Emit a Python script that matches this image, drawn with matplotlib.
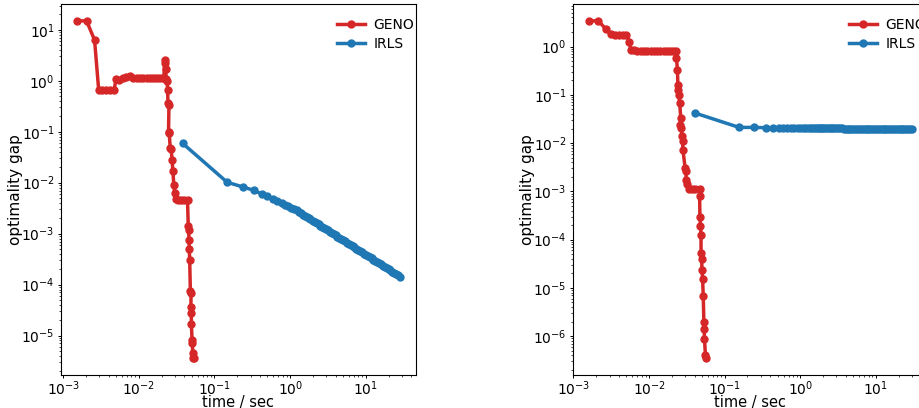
# -*- coding: utf-8 -*-
"""
GENO vs IRLS: optimality gap over time, two problem instances side by side
"""

import matplotlib
matplotlib.use("Agg")
from matplotlib import pyplot as plt

#_____________________________________________________
#DATA

# left panel
genoTimeLeft = [1.53e-3, 2.04e-3, 2.6e-3, 2.95e-3, 3.3e-3, 3.7e-3, 4.1e-3, 4.7e-3,
                5.0e-3, 5.5e-3, 6.1e-3, 6.8e-3, 7.7e-3, 8.5e-3, 9.4e-3, 0.0104,
                0.0115, 0.0127, 0.014, 0.0155, 0.017, 0.0185, 0.020, 0.0214,
                0.0220, 0.0223, 0.0226, 0.0230, 0.0237, 0.0240, 0.0243, 0.0250,
                0.0247, 0.0252, 0.0260, 0.0268, 0.0275, 0.0282, 0.0290, 0.0298,
                0.0310, 0.0330, 0.0360, 0.0400, 0.0440, 0.0450, 0.0455, 0.0460,
                0.0465, 0.0470, 0.0480, 0.0490, 0.0487, 0.0493, 0.0495, 0.0505,
                0.0510, 0.0515, 0.0525, 0.0530]
genoGapLeft = [15.0, 15.0, 6.3, 0.65, 0.65, 0.65, 0.65, 0.65,
               1.07, 1.05, 1.15, 1.18, 1.23, 1.15, 1.12, 1.12,
               1.12, 1.12, 1.12, 1.12, 1.12, 1.12, 1.12, 1.12,
               2.6, 2.2, 1.7, 1.1, 0.97, 0.65, 0.36, 0.33,
               0.10, 0.095, 0.048, 0.045, 0.028, 0.017, 0.009, 0.0063,
               0.0047, 0.0045, 0.0045, 0.0045, 0.0046, 1.4e-3, 1.2e-3, 7.6e-4,
               4.9e-4, 3.1e-4, 7.4e-5, 6.8e-5, 2.8e-5, 3.6e-5, 1.66e-5, 8.3e-6,
               7.0e-6, 4.6e-6, 3.6e-6, 3.6e-6]

irlsTimeLeft = [0.038, 0.147, 0.24, 0.33, 0.42, 0.5, 0.59, 0.68, 0.77, 0.86,
                0.95, 1.04, 1.13, 1.22, 1.31, 1.40, 1.49, 1.58, 1.67, 1.76, 1.85,
                1.995, 2.113, 2.239, 2.371, 2.512, 2.661, 2.818, 2.985, 3.162,
                3.350, 3.548, 3.758, 3.981, 4.217, 4.467, 4.732, 5.012, 5.309,
                5.623, 5.957, 6.310, 6.683, 7.079, 7.499, 7.943, 8.414, 8.913,
                9.441, 10.0, 10.59, 11.22, 11.89, 12.59, 13.34, 14.13, 14.96,
                15.85, 16.79, 17.78, 18.84, 19.95, 21.13, 22.39, 23.71, 25.12,
                26.61, 28.18]
irlsGapLeft = [0.059, 0.0102, 0.0082, 0.0071, 0.0060, 0.0054, 4.84e-3, 4.38e-3,
               4.00e-3, 3.70e-3, 3.44e-3, 3.22e-3, 3.03e-3, 2.86e-3, 2.67e-3,
               2.51e-3, 2.37e-3, 2.24e-3, 2.12e-3, 2.02e-3, 1.92e-3,
               1.791e-3, 1.695e-3, 1.604e-3, 1.519e-3, 1.438e-3, 1.361e-3,
               1.288e-3, 1.220e-3, 1.155e-3, 1.093e-3, 1.034e-3, 9.79e-4,
               9.27e-4, 8.78e-4, 8.31e-4, 7.86e-4, 7.44e-4, 7.05e-4, 6.67e-4,
               6.32e-4, 5.98e-4, 5.66e-4, 5.36e-4, 5.07e-4, 4.80e-4, 4.54e-4,
               4.30e-4, 4.07e-4, 3.85e-4, 3.65e-4, 3.45e-4, 3.27e-4, 3.09e-4,
               2.93e-4, 2.77e-4, 2.63e-4, 2.49e-4, 2.35e-4, 2.23e-4, 2.11e-4,
               2.00e-4, 1.89e-4, 1.79e-4, 1.69e-4, 1.60e-4, 1.52e-4, 1.44e-4]

# right panel
genoTimeRight = [1.61e-3, 2.14e-3, 2.67e-3, 3.11e-3, 3.5e-3, 4.0e-3, 4.5e-3, 5.0e-3,
                 5.44e-3, 5.73e-3, 6.3e-3, 7.0e-3, 7.8e-3, 8.6e-3, 9.5e-3, 0.0105,
                 0.0116, 0.0128, 0.0141, 0.0156, 0.0172, 0.019, 0.021, 0.0230,
                 0.0230, 0.0237, 0.0240, 0.0244, 0.0246, 0.0254, 0.0262, 0.0258,
                 0.0268, 0.0270, 0.0277, 0.0280, 0.0300, 0.0312, 0.0305, 0.0320,
                 0.0340, 0.0370, 0.0410, 0.0470, 0.0465, 0.0470, 0.0478, 0.0486,
                 0.0486, 0.0495, 0.0500, 0.0510, 0.0520, 0.0530, 0.0535, 0.0540,
                 0.0555, 0.0560]
genoGapRight = [3.4, 3.4, 2.3, 1.8, 1.75, 1.75, 1.75, 1.75,
                1.27, 0.85, 0.83, 0.82, 0.81, 0.80, 0.80, 0.80,
                0.80, 0.80, 0.80, 0.80, 0.80, 0.80, 0.80, 0.81,
                0.57, 0.33, 0.16, 0.127, 0.10, 0.067, 0.033, 0.024,
                0.0204, 0.0137, 0.0108, 0.0072, 3.0e-3, 2.6e-3, 1.74e-3, 1.44e-3,
                1.12e-3, 1.12e-3, 1.12e-3, 1.12e-3, 8.1e-4, 3.0e-4, 1.95e-4, 1.26e-4,
                5.2e-5, 4.0e-5, 2.4e-5, 1.5e-5, 6.7e-6, 1.95e-6, 1.38e-6, 8.8e-7,
                4.1e-7, 3.5e-7]

irlsTimeRight = [0.0402, 0.155, 0.244, 0.351, 0.434, 0.521, 0.589, 0.665, 0.751,
                 0.824, 0.93, 1.02, 1.11, 1.20, 1.29, 1.38, 1.47, 1.56, 1.65,
                 1.74, 1.83, 1.92,
                 1.995, 2.113, 2.239, 2.371, 2.512, 2.661, 2.818, 2.985, 3.162,
                 3.350, 3.548, 3.758, 3.981, 4.217, 4.467, 4.732, 5.012, 5.309,
                 5.623, 5.957, 6.310, 6.683, 7.079, 7.499, 7.943, 8.414, 8.913,
                 9.441, 10.0, 10.59, 11.22, 11.89, 12.59, 13.34, 14.13, 14.96,
                 15.85, 16.79, 17.78, 18.84, 19.95, 21.13, 22.39, 23.71, 25.12,
                 26.61, 28.18, 29.85]
irlsGapRight = [0.042, 0.0211, 0.0211, 0.0208, 0.0205, 0.0204, 0.0204, 0.0204,
                0.0204, 0.0204, 0.0203, 0.0203, 0.0203, 0.0203, 0.0203, 0.0203,
                0.0202, 0.0202, 0.0202, 0.0202, 0.0202, 0.0202,
                0.0202, 0.0202, 0.0202, 0.0201, 0.0201, 0.0201, 0.0201, 0.0201,
                0.0201, 0.0201, 0.0201, 0.0200, 0.0200, 0.0200, 0.0200, 0.0200,
                0.0200, 0.0200, 0.0200, 0.0200, 0.0200, 0.0200, 0.0199, 0.0199,
                0.0199, 0.0199, 0.0199, 0.0199, 0.0199, 0.0199, 0.0199, 0.0199,
                0.0199, 0.0199, 0.0199, 0.0199, 0.0199, 0.0198, 0.0198, 0.0198,
                0.0198, 0.0198, 0.0198, 0.0198, 0.0198, 0.0198, 0.0198, 0.0198]

panels = [
    (genoTimeLeft, genoGapLeft, irlsTimeLeft, irlsGapLeft),
    (genoTimeRight, genoGapRight, irlsTimeRight, irlsGapRight),
]

#_____________________________________________________
#PLOT

fig = plt.figure(figsize=(9.2, 4.08), dpi=100)

# the right panel runs past the right edge of the picture, as in the reference
axLefts = [61 / 920, 573 / 920]
for axLeft, (gt, gg, it, ig) in zip(axLefts, panels):
    ax = fig.add_axes([axLeft, 33 / 408, 355 / 920, 371 / 408])
    ax.plot(gt, gg, color="tab:red", marker="o", lw=2.5, ms=5, label="GENO")
    ax.plot(it, ig, color="tab:blue", marker="o", lw=2.5, ms=5, label="IRLS")
    ax.set_xscale("log")
    ax.set_yscale("log")
    ax.set_xlabel("time / sec", fontsize=10.5, labelpad=-2)
    ax.set_ylabel("optimality gap", fontsize=11, labelpad=-1)
    ax.tick_params(which="major", length=2.5, width=0.7, labelsize=10)
    ax.tick_params(which="minor", length=1.5, width=0.5)
    ax.tick_params(axis="x", which="both", pad=0.5)
    ax.tick_params(axis="y", which="both", pad=2)
    ax.legend(loc="upper right", bbox_to_anchor=(1.03, 0.995), frameon=False,
              fontsize=10, labelspacing=0.3, handletextpad=0.6)

fig.savefig("out.png", dpi=100)
